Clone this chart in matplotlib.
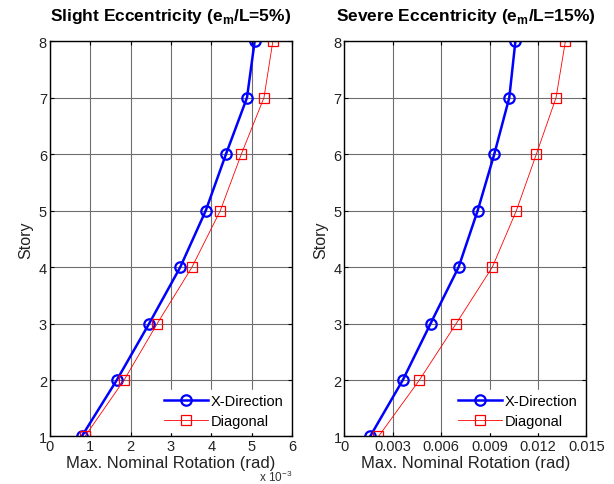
import matplotlib.pyplot as plt
from matplotlib.ticker import FixedLocator

plt.rcParams["font.family"] = ["Liberation Sans", "DejaVu Sans"]

stories = [1, 2, 3, 4, 5, 6, 7, 8]

# slight eccentricity, values in 1e-3 rad
slight_x = [0.79, 1.66, 2.46, 3.23, 3.86, 4.36, 4.88, 5.07]
slight_diag = [0.87, 1.84, 2.66, 3.52, 4.22, 4.74, 5.30, 5.52]

# severe eccentricity, values in rad
severe_x = [0.00159, 0.00362, 0.00534, 0.00708, 0.00826, 0.00929, 0.01022, 0.0106]
severe_diag = [0.00211, 0.00465, 0.00693, 0.00917, 0.01066, 0.0119, 0.01312, 0.0137]

slight_ticks = [0, 1, 2, 3, 4, 5, 6]
severe_ticks = [0, 0.003, 0.006, 0.009, 0.012, 0.015]
severe_labels = ["0", "0.003", "0.006", "0.009", "0.012", "0.015"]


def style_axes(ax, title):
    ax.grid(True, color="#6e6e6e", linewidth=0.8)
    ax.set_axisbelow(True)
    ax.set_ylim(1, 8)
    ax.yaxis.set_major_locator(FixedLocator(stories))
    ax.tick_params(direction="in", top=True, right=True, labelsize=10.5,
                   length=3, width=0.8, pad=2, labelcolor="#222222")
    for sp in ax.spines.values():
        sp.set_linewidth(1.0)
    ax.set_ylabel("Story", fontsize=11.5, labelpad=4, color="#222222")
    ax.set_xlabel("Max. Nominal Rotation (rad)", fontsize=12, labelpad=1.5,
                  color="#222222")
    ax.set_title(title, fontsize=12.5, fontweight="bold", pad=15)


def plot_pair(ax, xdir, diag):
    ax.plot(xdir, stories, color="blue", linewidth=1.8, marker="o",
            markersize=7.5, markerfacecolor="none", markeredgewidth=1.6,
            label="X-Direction")
    ax.plot(diag, stories, color="red", linewidth=0.6, marker="s",
            markersize=7, markerfacecolor="none", markeredgewidth=0.9,
            label="Diagonal")
    leg = ax.legend(loc="lower right", fontsize=10.5, frameon=True, fancybox=False,
                    borderaxespad=0.3, borderpad=0.3, handlelength=3.0,
                    handletextpad=0.2, labelspacing=0.4)
    leg.get_frame().set_facecolor("white")
    leg.get_frame().set_edgecolor("white")
    leg.get_frame().set_alpha(1.0)


fig = plt.figure(figsize=(6.14, 4.85), dpi=100)
ax1 = fig.add_axes([0.081, 0.098, 0.395, 0.815])
ax2 = fig.add_axes([0.561, 0.098, 0.394, 0.815])

plot_pair(ax1, slight_x, slight_diag)
ax1.set_xlim(0, 6)
ax1.set_xticks(slight_ticks)
style_axes(ax1, "Slight Eccentricity (e$_\\mathregular{m}$/L=5%)")
fig.text(0.4756, 0.001, "x 10$^{\\mathregular{-3}}$",
         fontsize=8.5, ha="right", va="bottom", color="#333333")

plot_pair(ax2, severe_x, severe_diag)
ax2.set_xlim(0, 0.015)
ax2.set_xticks(severe_ticks)
ax2.set_xticklabels(severe_labels)
style_axes(ax2, "Severe Eccentricity (e$_\\mathregular{m}$/L=15%)")

fig.savefig("out.png", dpi=100)
